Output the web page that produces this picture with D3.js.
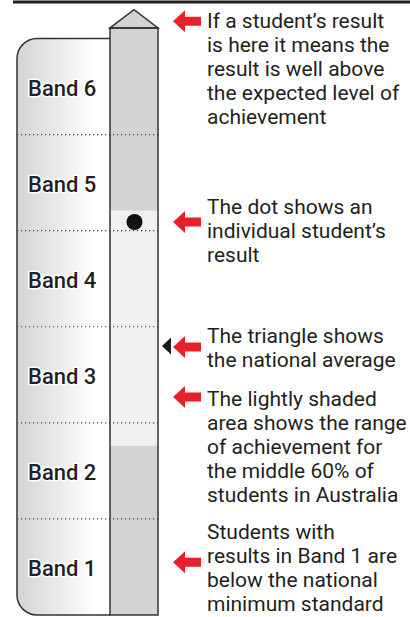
<!DOCTYPE html>
<html>
<head>
<meta charset="utf-8">
<script src="https://cdn.jsdelivr.net/npm/d3@7"></script>
<style>
  body { margin: 0; background: #fff; }
  svg { display: block; }
</style>
</head>
<body>
<svg id="chart"></svg>
<script>
// bands, bottom to top
const bands = ["Band 1", "Band 2", "Band 3", "Band 4", "Band 5", "Band 6"];
// values on the band scale (0 = bottom of Band 1, 6 = top of Band 6)
const studentResult = 4.09;
const middleRange = [1.76, 4.21];
const nationalAverage = 2.8;
// annotations: where each arrow points and its lines of text
const notes = [
  { at: 6.18, lines: ["If a student’s result", "is here it means the", "result is well above", "the expected level of", "achievement"] },
  { at: 4.09, lines: ["The dot shows an", "individual student’s", "result"] },
  { at: 2.79, lines: ["The triangle shows", "the national average"] },
  { at: 2.27, lines: ["The lightly shaded", "area shows the range", "of achievement for", "the middle 60% of", "students in Australia"] },
  { at: 0.55, lines: ["Students with", "results in Band 1 are", "below the national", "minimum standard"] }
];
// first baseline of each note, in band units
const noteTop = [6.11, 4.17, 2.83, 2.17, 0.79];

const W = 410, H = 617;
const svg = d3.select("#chart").attr("width", W).attr("height", H);

const y = d3.scaleLinear().domain([0, 6]).range([615, 38.5]);
const bandScale = d3.scaleBand().domain(bands.slice().reverse()).range([38.5, 615]);

const panelL = 17, colL = 110, colR = 158, r = 20;
const ink = "#231f20";

// top rule
svg.append("line")
  .attr("x1", 13).attr("x2", W).attr("y1", 2).attr("y2", 2)
  .attr("stroke", ink).attr("stroke-width", 3);

// gradient for the band panel
const grad = svg.append("defs").append("linearGradient")
  .attr("id", "panelGrad").attr("x1", "0").attr("x2", "1").attr("y1", "0").attr("y2", "0");
grad.append("stop").attr("offset", "0%").attr("stop-color", "#d3d4d6");
grad.append("stop").attr("offset", "85%").attr("stop-color", "#ffffff");
grad.append("stop").attr("offset", "100%").attr("stop-color", "#ffffff");

// band panel, rounded on the left
const panelTop = y(6), panelBot = y(0);
const p = d3.path();
p.moveTo(colL, panelTop);
p.lineTo(panelL + r, panelTop);
p.arcTo(panelL, panelTop, panelL, panelTop + r, r);
p.lineTo(panelL, panelBot - r);
p.arcTo(panelL, panelBot, panelL + r, panelBot, r);
p.lineTo(colL, panelBot);
svg.append("path").attr("d", p.toString() + "Z")
  .attr("fill", "url(#panelGrad)").attr("stroke", "none");
svg.append("path").attr("d", p.toString())
  .attr("fill", "none").attr("stroke", "#333").attr("stroke-width", 1.5);

// column
const colTop = y(6.11), apex = y(6.3);
svg.append("rect")
  .attr("x", colL).attr("y", colTop).attr("width", colR - colL).attr("height", panelBot - colTop)
  .attr("fill", "#d1d3d4");
svg.append("rect")
  .attr("x", colL).attr("y", y(middleRange[1])).attr("width", colR - colL)
  .attr("height", y(middleRange[0]) - y(middleRange[1]))
  .attr("fill", "#f0f0f0");
svg.append("path")
  .attr("d", `M${colL},${colTop}L${(colL + colR) / 2},${apex}L${colR},${colTop}Z`)
  .attr("fill", "#d1d3d4").attr("stroke", "#333").attr("stroke-width", 1.5).attr("stroke-linejoin", "miter");

// band boundaries
svg.selectAll("line.band")
  .data(d3.range(1, 6))
  .enter().append("line").attr("class", "band")
  .attr("x1", panelL).attr("x2", colR + 2)
  .attr("y1", d => y(d)).attr("y2", d => y(d))
  .attr("stroke", "#444").attr("stroke-width", 1.2).attr("stroke-dasharray", "1.2,2.8");

// column outline
svg.append("rect")
  .attr("x", colL).attr("y", colTop).attr("width", colR - colL).attr("height", panelBot - colTop)
  .attr("fill", "none").attr("stroke", "#333").attr("stroke-width", 1.5);

// band labels
svg.selectAll("text.band")
  .data(bands)
  .enter().append("text").attr("class", "band")
  .attr("x", 28)
  .attr("y", d => bandScale(d) + bandScale.bandwidth() / 2 + 9.5)
  .attr("font-family", "Roboto").attr("font-weight", 500).attr("font-size", 22)
  .attr("fill", ink).attr("stroke", "#fff").attr("stroke-width", 3)
  .attr("paint-order", "stroke").attr("stroke-linejoin", "round")
  .text(d => d);

// student dot
svg.append("circle")
  .attr("cx", (colL + colR) / 2 + 0.5).attr("cy", y(studentResult)).attr("r", 8)
  .attr("fill", "#111");

// national average triangle
const ta = y(nationalAverage);
svg.append("path")
  .attr("d", `M162,${ta}L171,${ta - 8.5}L171,${ta + 8.5}Z`)
  .attr("fill", "#1a1a1a");

// arrows and notes
const arrow = svg.selectAll("g.note")
  .data(notes)
  .enter().append("g").attr("class", "note");

arrow.append("path")
  .attr("d", d => {
    const c = y(d.at);
    return `M173,${c}L185,${c - 11}L185,${c - 4.5}L201,${c - 4.5}L201,${c + 4.5}L185,${c + 4.5}L185,${c + 11}Z`;
  })
  .attr("fill", "#e8202a");

arrow.each(function(d, i) {
  const t = d3.select(this).append("text")
    .attr("x", 207).attr("y", y(noteTop[i]))
    .attr("font-family", "Roboto").attr("font-size", 21).attr("fill", ink);
  t.selectAll("tspan").data(d.lines).enter().append("tspan")
    .attr("x", 207).attr("dy", (l, j) => j === 0 ? 0 : 24)
    .text(l => l);
});
</script>
</body>
</html>
